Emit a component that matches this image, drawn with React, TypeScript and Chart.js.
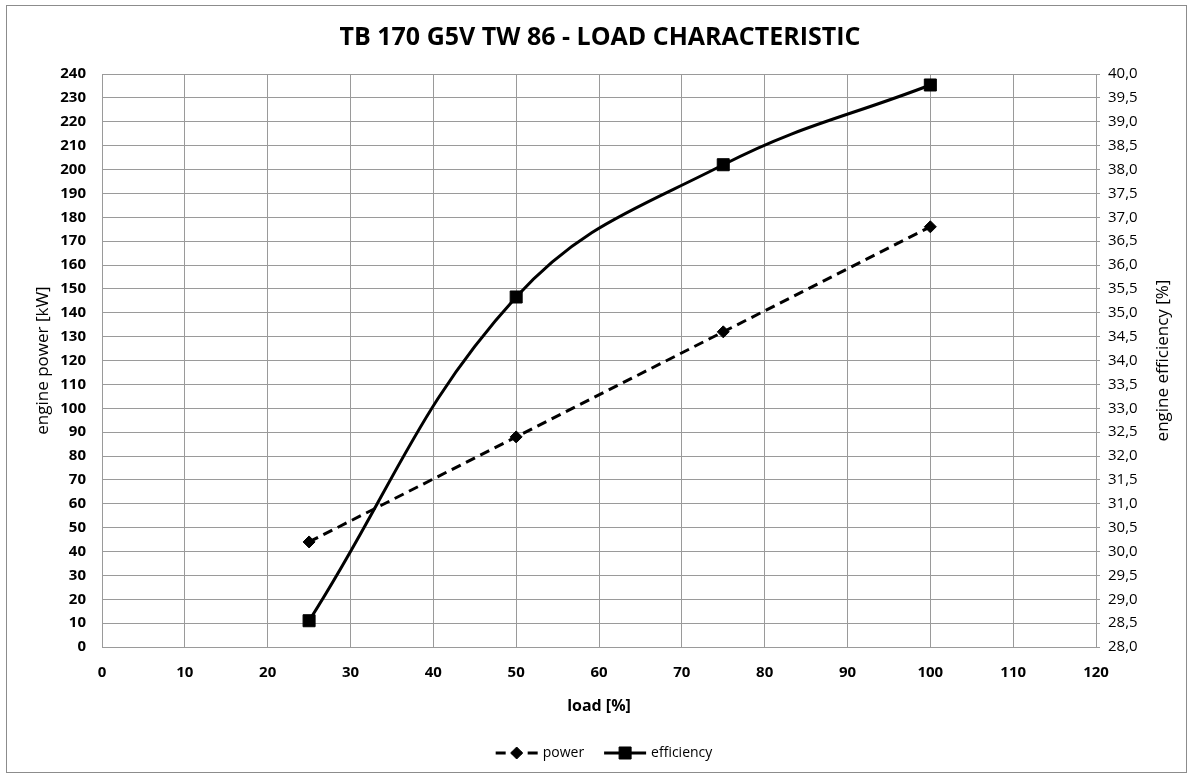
import React, { useEffect, useRef } from 'react';
import { Chart, registerables } from 'chart.js';
import { drawPoint } from 'chart.js/helpers';

Chart.register(...registerables);

// ---- data ----
const chartTitle = 'TB 170 G5V TW 86 - LOAD CHARACTERISTIC';
const xAxisTitle = 'load [%]';
const yLeftTitle = 'engine power [kW]';
const yRightTitle = 'engine efficiency [%]';
const seriesNames = ['power', 'efficiency'];
const loadPct = [25, 50, 75, 100];
const powerKW = [44, 88, 132, 176];
const efficiencyPct = [28.55, 35.33, 38.1, 39.77];
const xRange = [0, 120, 10]; // min, max, step
const yLeftRange = [0, 240, 10];
const yRightRange = [28, 40, 0.5];

const FONT = '"Open Sans", "DejaVu Sans", sans-serif';
const GRID = '#9a9a9a';

const decorPlugin = {
  id: 'decor',
  afterDraw(chart: any) {
    const ctx = chart.ctx as CanvasRenderingContext2D;
    const ca = chart.chartArea;
    const midY = (ca.top + ca.bottom) / 2;
    ctx.save();
    ctx.fillStyle = '#000';
    ctx.textAlign = 'center';
    ctx.textBaseline = 'middle';

    // chart title
    ctx.font = `bold 25px ${FONT}`;
    ctx.fillText(chartTitle, 600, 38);

    // x axis title
    ctx.font = `bold 16px ${FONT}`;
    ctx.fillText(xAxisTitle, (ca.left + ca.right) / 2, 706);

    // y axis titles (both read bottom-to-top)
    ctx.font = `17px ${FONT}`;
    ctx.save();
    ctx.translate(43, midY);
    ctx.rotate(-Math.PI / 2);
    ctx.fillText(yLeftTitle, 0, 0);
    ctx.restore();
    ctx.save();
    ctx.translate(1163, midY);
    ctx.rotate(-Math.PI / 2);
    ctx.fillText(yRightTitle, 0, 0);
    ctx.restore();

    // legend
    const legendY = 753;
    const lineLen = 42;
    const gapText = 5;
    const gapItem = 20;
    ctx.font = `14px ${FONT}`;
    const dss = chart.data.datasets;
    const widths = dss.map((d: any) => ctx.measureText(d.label).width);
    const total =
      widths.reduce((a: number, w: number) => a + lineLen + gapText + w, 0) +
      gapItem * (dss.length - 1);
    let x = 604 - total / 2;
    dss.forEach((ds: any, i: number) => {
      ctx.save();
      ctx.strokeStyle = ds.borderColor;
      ctx.lineWidth = ds.borderWidth;
      ctx.setLineDash(ds.borderDash || []);
      ctx.beginPath();
      ctx.moveTo(x, legendY);
      ctx.lineTo(x + lineLen, legendY);
      ctx.stroke();
      ctx.setLineDash([]);
      ctx.fillStyle = ds.pointBackgroundColor;
      ctx.strokeStyle = ds.pointBorderColor;
      ctx.lineWidth = ds.pointBorderWidth;
      drawPoint(
        ctx,
        { pointStyle: ds.pointStyle, rotation: 0, radius: ds.pointRadius, borderWidth: ds.pointBorderWidth } as any,
        x + lineLen / 2,
        legendY
      );
      ctx.restore();
      ctx.fillStyle = '#000';
      ctx.textAlign = 'left';
      ctx.textBaseline = 'middle';
      ctx.fillText(ds.label, x + lineLen + gapText, legendY);
      x += lineLen + gapText + widths[i] + gapItem;
    });
    ctx.restore();
  },
};

export default function App() {
  const canvasRef = useRef<HTMLCanvasElement | null>(null);

  useEffect(() => {
    let chart: Chart | null = null;
    let cancelled = false;

    const build = () => {
      if (cancelled || !canvasRef.current) return;
      const tickFontBold = { family: FONT, size: 15, weight: 'bold' as const };
      const tickFontReg = { family: FONT, size: 15, weight: 'normal' as const };
      chart = new Chart(canvasRef.current, {
        type: 'line',
        data: {
          datasets: [
            {
              label: seriesNames[0],
              data: loadPct.map((x, i) => ({ x, y: powerKW[i] })),
              yAxisID: 'y',
              borderColor: '#000',
              borderWidth: 3,
              borderDash: [10, 6],
              pointStyle: 'rectRot',
              pointRadius: 6,
              pointBackgroundColor: '#000',
              pointBorderColor: '#000',
              pointBorderWidth: 1,
              tension: 0,
              fill: false,
            },
            {
              label: seriesNames[1],
              data: loadPct.map((x, i) => ({ x, y: efficiencyPct[i] })),
              yAxisID: 'y2',
              borderColor: '#000',
              borderWidth: 3,
              pointStyle: 'rect',
              pointRadius: 8.5,
              pointBackgroundColor: '#000',
              pointBorderColor: '#000',
              pointBorderWidth: 1,
              tension: 0.4,
              fill: false,
            },
          ],
        },
        options: {
          animation: false,
          responsive: false,
          devicePixelRatio: 1,
          layout: { padding: { top: 74, left: 0, right: 0, bottom: 0 } },
          plugins: {
            legend: { display: false },
            title: { display: false },
            tooltip: { enabled: false },
          },
          scales: {
            x: {
              type: 'linear',
              position: 'bottom',
              min: xRange[0],
              max: xRange[1],
              ticks: { stepSize: xRange[2], color: '#000', font: tickFontBold, padding: 17, autoSkip: false, maxRotation: 0 },
              grid: { color: GRID, lineWidth: 1, drawTicks: false },
              border: { color: GRID, width: 1 },
              afterFit: (s: any) => {
                s.height = 129;
              },
            },
            y: {
              type: 'linear',
              position: 'left',
              min: yLeftRange[0],
              max: yLeftRange[1],
              ticks: { stepSize: yLeftRange[2], color: '#000', font: tickFontBold, padding: 16, autoSkip: false },
              grid: { color: GRID, lineWidth: 1, drawTicks: false },
              border: { color: GRID, width: 1 },
              afterFit: (s: any) => {
                s.width = 102;
              },
            },
            y2: {
              type: 'linear',
              position: 'right',
              min: yRightRange[0],
              max: yRightRange[1],
              ticks: {
                stepSize: yRightRange[2],
                color: '#000',
                font: tickFontReg,
                padding: 8,
                autoSkip: false,
                callback: (v: any) => Number(v).toFixed(1).replace('.', ','),
              },
              grid: { drawOnChartArea: false, drawTicks: true, tickLength: 4, color: GRID, lineWidth: 1 },
              border: { color: GRID, width: 1 },
              afterFit: (s: any) => {
                s.width = 96;
              },
            },
          },
        } as any,
        plugins: [decorPlugin],
      });
    };

    const fonts = [`bold 25px ${FONT}`, `17px ${FONT}`, `bold 15px ${FONT}`, `14px ${FONT}`];
    Promise.all(fonts.map((f) => (document as any).fonts.load(f)))
      .catch(() => null)
      .then(build);

    return () => {
      cancelled = true;
      if (chart) chart.destroy();
    };
  }, []);

  return (
    <div style={{ position: 'fixed', left: 0, top: 0, width: 1192, height: 776, background: '#fff' }}>
      <canvas ref={canvasRef} width={1192} height={776} style={{ position: 'absolute', left: 0, top: 0, width: 1192, height: 776 }} />
      <div
        style={{
          position: 'absolute',
          left: 6,
          top: 5,
          width: 1181,
          height: 768,
          boxSizing: 'border-box',
          border: '1px solid #8c8c8c',
          pointerEvents: 'none',
        }}
      />
    </div>
  );
}
